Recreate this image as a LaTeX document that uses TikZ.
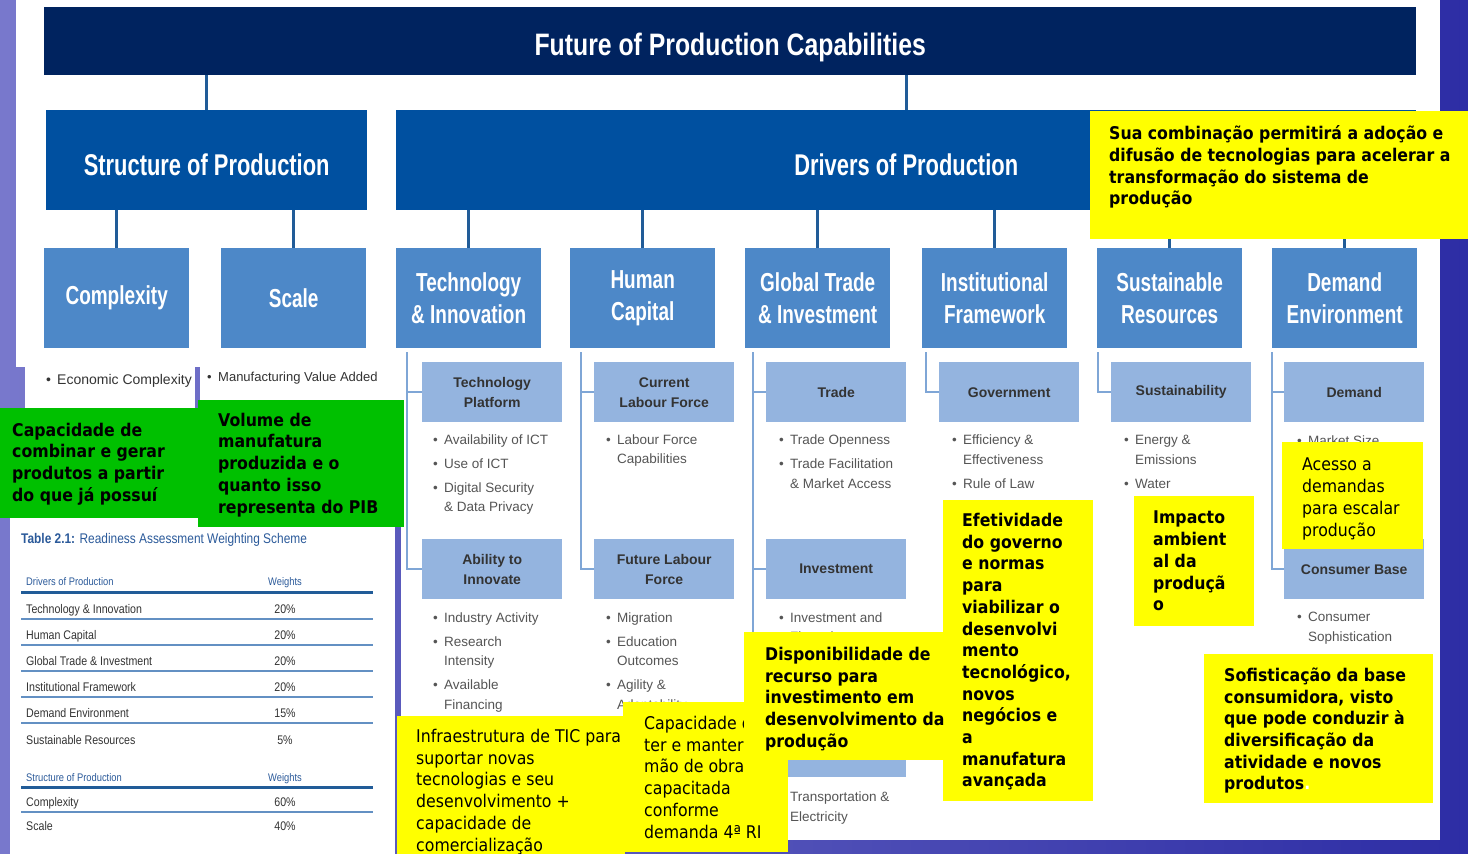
\documentclass[tikz,border=0pt]{standalone}
\usepackage{fontspec}
\setmainfont{Liberation Sans}
\newfontfamily\titlefont[FakeStretch=0.8]{Liberation Sans}
\newfontfamily\headfont[FakeStretch=0.73]{Liberation Sans}
\newfontfamily\tabfont[FakeStretch=0.85]{Liberation Sans}
\newfontfamily\callfont[FakeStretch=0.9]{DejaVu Sans}
\usetikzlibrary{positioning, calc}

\definecolor{fpnavy}{RGB}{0,35,95}
\definecolor{fpblue}{RGB}{0,80,160}
\definecolor{fpmid}{RGB}{77,136,200}
\definecolor{fplight}{RGB}{148,180,223}
\definecolor{fpline}{RGB}{33,92,152}
\definecolor{fpsub}{RGB}{127,166,214}
\definecolor{fpgray}{RGB}{85,85,85}
\definecolor{fpdark}{RGB}{51,51,51}
\definecolor{fptab}{RGB}{43,90,154}
\definecolor{fpyel}{RGB}{255,255,0}
\definecolor{fpgreen}{RGB}{0,192,0}
\definecolor{bgl}{RGB}{120,120,204}
\definecolor{bgr}{RGB}{45,45,165}

\newcommand{\fpbul}{\makebox[11pt][l]{\textbullet}}
\newcommand{\fpind}{\hspace*{11pt}}

\begin{document}
\begin{tikzpicture}[x=1pt,y=-1pt,
  topbar/.style={rectangle,fill=fpnavy,anchor=north west,inner sep=0pt,minimum width=1372pt,minimum height=68pt,text height=28pt,text depth=0pt,text=white,font=\titlefont\bfseries\fontsize{31}{31}\selectfont},
  mainbox/.style={rectangle,fill=fpblue,anchor=north west,inner sep=0pt,minimum height=100pt,text height=30pt,text depth=0pt,text=white,font=\headfont\bfseries\fontsize{30}{30}\selectfont},
  pillar/.style={rectangle,fill=fpmid,anchor=north west,inner sep=0pt,minimum width=145pt,minimum height=100pt,align=center,text=white,font=\headfont\bfseries\fontsize{26}{32}\selectfont},
  subbox/.style={rectangle,fill=fplight,anchor=north west,inner sep=0pt,minimum width=140pt,minimum height=60pt,align=center,text=fpdark,font=\bfseries\fontsize{14}{20}\selectfont},
  bullets/.style={anchor=north west,inner sep=0pt,align=left,text=fpgray,font=\fontsize{13.5}{19.5}\selectfont},
  conn/.style={draw=fpline,line width=3pt},
  subline/.style={draw=fpsub,line width=2.2pt},
  tabhead/.style={anchor=base west,inner sep=0pt,text=fptab,font=\tabfont\fontsize{11}{13}\selectfont},
  tabrow/.style={anchor=base west,inner sep=0pt,text=fpdark,font=\tabfont\fontsize{12.5}{14}\selectfont},
  callbox/.style={rectangle,fill=fpyel,anchor=north west,inner sep=0pt},
  calltext/.style={anchor=north west,inner sep=0pt,align=left,text=black,font=\callfont\bfseries\fontsize{17.5}{21.7}\selectfont},
  callplain/.style={calltext,font=\callfont\fontsize{17.5}{21.7}\selectfont}]
  \useasboundingbox (0,0) rectangle (1468,854);
  % slide background and pasted panels
  \shade[left color=bgl,right color=bgr] (0,0) rectangle (1468,854);
  \fill[white] (16,0) rectangle (1440,367);
  \fill[white] (200,367) rectangle (1440,840);
  \fill[white] (25,360) rectangle (195,408);
  \fill[white] (10,518) rectangle (395,854);
  \fill[bgl!60!bgr] (395,525) rectangle (401,854);

  % tree
  \node[topbar](title) at (44,7) {Future of Production Capabilities};
  \node[mainbox,minimum width=321pt](structure) at (46,110) {Structure of Production};
  \node[mainbox,minimum width=1020pt](drivers) at (396,110) {Drivers of Production};
  \node[pillar](complexity) at (44,248) {Complexity};
  \node[pillar](scale) at (221,248) {Scale};
  \node[pillar](tech) at (396,248) {Technology\\\& Innovation};
  \node[pillar](human) at (570,248) {Human\\Capital};
  \node[pillar](trade) at (745,248) {Global Trade\\\& Investment};
  \node[pillar](inst) at (922,248) {Institutional\\Framework};
  \node[pillar](sust) at (1097,248) {Sustainable\\Resources};
  \node[pillar](demand) at (1272,248) {Demand\\Environment};
  \draw[conn](title.south -| structure.north)--(structure.north);
  \draw[conn](title.south -| drivers.north)--(drivers.north);
  \foreach \n in {complexity,scale}{\draw[conn](structure.south -| \n.north)--(\n.north);}
  \foreach \n in {tech,human,trade,inst,sust,demand}{\draw[conn](drivers.south -| \n.north)--(\n.north);}

  % sub-pillars
  \node[subbox](techplat) at (422,362) {Technology\\Platform};
  \node[subbox](ability) at (422,539) {Ability to\\Innovate};
  \node[subbox](curlab) at (594,362) {Current\\Labour Force};
  \node[subbox](futlab) at (594,539) {Future Labour\\Force};
  \node[subbox](tradebox) at (766,362) {Trade};
  \node[subbox](invest) at (766,539) {Investment};
  \node[subbox](infra) at (766,717) {};
  \node[subbox](govt) at (939,362) {Government};
  \node[subbox](sustain) at (1111,362) {Sustainability};
  \node[subbox](demandbox) at (1284,362) {Demand};
  \node[subbox](consumer) at (1284,539) {Consumer Base};
  \foreach \c/\x in {ct/407,ch/581,cg/753,ci/926,cs/1098,cd/1272}{\coordinate(\c) at (\x,352);}
  \foreach \a/\b in {ct/techplat,ct/ability,ch/curlab,ch/futlab,cg/tradebox,cg/invest,cg/infra,ci/govt,cs/sustain,cd/demandbox,cd/consumer}{\draw[subline](\a)|-(\b.west);}

  % indicators
  \node[bullets,anchor=base west,text=fpdark,font=\fontsize{14}{18}\selectfont](econ) at (46,384) {\fpbul Economic Complexity};
  \node[bullets,anchor=base west,text=fpdark,font=\fontsize{13}{18}\selectfont](mva) at (207,381) {\fpbul Manufacturing Value Added};
  \node[bullets](techlist) at (433,434.3) {\fpbul Availability of ICT\\[4.5pt]\fpbul Use of ICT\\[4.5pt]\fpbul Digital Security\\\fpind\& Data Privacy};
  \node[bullets](abilitylist) at (433,612.3) {\fpbul Industry Activity\\[4.5pt]\fpbul Research\\\fpind Intensity\\[4.5pt]\fpbul Available\\\fpind Financing};
  \node[bullets](curlablist) at (606,434.3) {\fpbul Labour Force\\\fpind Capabilities};
  \node[bullets](futlablist) at (606,612.3) {\fpbul Migration\\[4.5pt]\fpbul Education\\\fpind Outcomes\\[4.5pt]\fpbul Agility \&\\\fpind Adaptability};
  \node[bullets](tradelist) at (779,435) {\fpbul Trade Openness\\[4.5pt]\fpbul Trade Facilitation\\\fpind\& Market Access};
  \node[bullets](investlist) at (779,612.3) {\fpbul Investment and\\\fpind Financing};
  \node[bullets](infralist) at (779,792) {\fpbul Transportation \&\\\fpind Electricity};
  \node[bullets](govtlist) at (952,435) {\fpbul Efficiency \&\\\fpind Effectiveness\\[4.5pt]\fpbul Rule of Law};
  \node[bullets](sustlist) at (1124,435) {\fpbul Energy \&\\\fpind Emissions\\[4.5pt]\fpbul Water};
  \node[bullets,anchor=base west](demandlist) at (1297,445) {\fpbul Market Size};
  \node[bullets](consumerlist) at (1297,612.3) {\fpbul Consumer\\\fpind Sophistication};

  % weighting table
  \node[anchor=base west,inner sep=0pt,text=fptab,font=\tabfont\fontsize{14}{16}\selectfont](tabtitle) at (21,543) {\textbf{Table 2.1:} Readiness Assessment Weighting Scheme};
  \node[tabhead](hdrdrv) at (26,585) {Drivers of Production};
  \node[tabhead,anchor=base](wtdrv) at (285,585) {Weights};
  \node[tabhead](hdrstr) at (26,781) {Structure of Production};
  \node[tabhead,anchor=base](wtstr) at (285,781) {Weights};
  \foreach \yy in {592,787}{\draw[fpline,line width=3pt](21,\yy)--(373,\yy);}
  \foreach \yy in {619,645,671,697,723,812}{\draw[fpsub!70!fpline,line width=1.6pt](21,\yy)--(373,\yy);}
  \foreach \r/\w/\yy in {Technology \& Innovation/20/613,Human Capital/20/639,Global Trade \& Investment/20/665,Institutional Framework/20/691,Demand Environment/15/717,Sustainable Resources/5/744,Complexity/60/806,Scale/40/830}{
    \node[tabrow](row\yy) at (26,\yy) {\r};
    \node[tabrow,anchor=base](wt\yy) at (285,\yy) {\w\%};}

  % notes
  \node[callbox,fill=fpgreen,minimum width=198pt,minimum height=110pt](gcomp) at (0,408) {};
  \node[calltext](gcomptxt) at (12,422.7) {Capacidade de\\combinar e gerar\\produtos a partir\\do que já possuí};
  \node[callbox,fill=fpgreen,minimum width=206pt,minimum height=127pt](gscale) at (198,400) {};
  \node[calltext](gscaletxt) at (218,412.7) {Volume de\\manufatura\\produzida e o\\quanto isso\\representa do PIB};
  \node[callbox,minimum width=378pt,minimum height=128pt](ydrv) at (1090,111) {};
  \node[calltext](ydrvtxt) at (1109,125.7) {Sua combinação permitirá a adoção e\\difusão de tecnologias para acelerar a\\transformação do sistema de\\produção};
  \node[callbox,minimum width=150pt,minimum height=301pt](yinst) at (943,500) {};
  \node[calltext](yinsttxt) at (962,513) {Efetividade\\do governo\\e normas\\para\\viabilizar o\\desenvolvi\\mento\\tecnológico,\\novos\\negócios e\\a\\manufatura\\avançada};
  \node[callbox,minimum width=120pt,minimum height=130pt](ysust) at (1134,496) {};
  \node[calltext](ysusttxt) at (1153,511) {Impacto\\ambient\\al da\\produçã\\o};
  \node[callbox,minimum width=141pt,minimum height=107pt](ydem) at (1282,442) {};
  \node[callplain](ydemtxt) at (1302,458) {Acesso a\\demandas\\para escalar\\produção};
  \node[callbox,minimum width=229pt,minimum height=149pt](ycons) at (1204,654) {};
  \node[calltext](yconstxt) at (1224,667.5) {Sofisticação da base\\consumidora, visto\\que pode conduzir à\\diversificação da\\atividade e novos\\produtos{\color{white}.}};
  \node[callbox,minimum width=228pt,minimum height=138pt](ytech) at (397,716) {};
  \node[callplain](ytechtxt) at (416,729) {Infraestrutura de TIC para\\suportar novas\\tecnologias e seu\\desenvolvimento +\\capacidade de\\comercialização};
  \node[callbox,minimum width=165pt,minimum height=150pt](yhum) at (623,702) {};
  \node[callplain](yhumtxt) at (644,716) {Capacidade de\\ter e manter\\mão de obra\\capacitada\\conforme\\demanda 4ª RI};
  \node[callbox,minimum width=199pt,minimum height=128pt](yinv) at (744,632) {};
  \node[calltext](yinvtxt) at (765,647) {Disponibilidade de\\recurso para\\investimento em\\desenvolvimento da\\produção};
\end{tikzpicture}
\end{document}
